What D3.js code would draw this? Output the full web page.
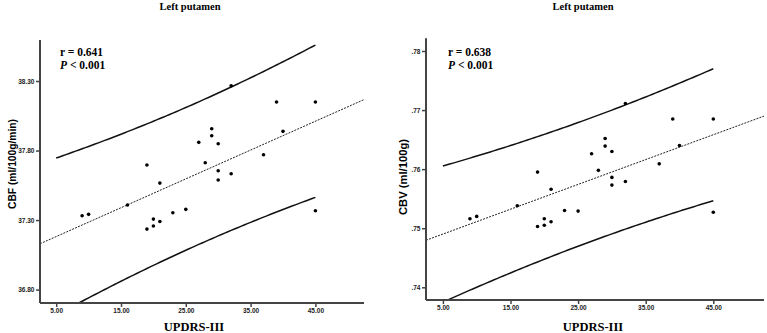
<!DOCTYPE html>
<html>
<head>
<meta charset="utf-8">
<script src="https://cdn.jsdelivr.net/npm/d3@7"></script>
<style>
  body { margin: 0; background: #fff; }
  svg { display: block; }
</style>
</head>
<body>
<svg id="chart" width="767" height="333"></svg>
<script>
// data (same 25 patients in both panels)
var updrs = [32, 39, 45, 29, 29, 40, 27, 30, 37, 19, 28, 30, 32, 30, 21, 16, 9, 10, 19, 20, 20, 21, 23, 25, 45];
var cbf = [38.266, 38.149, 38.149, 37.957, 37.906, 37.938, 37.859, 37.849, 37.770, 37.696, 37.712, 37.655, 37.633,
           37.588, 37.566, 37.408, 37.331, 37.341, 37.235, 37.307, 37.257, 37.290, 37.353, 37.377, 37.367];
var cbv = [0.7711, 0.7685, 0.7685, 0.7652, 0.7639, 0.7640, 0.7626, 0.7630, 0.7609, 0.7595, 0.7598, 0.7586, 0.7579,
           0.7573, 0.7566, 0.7538, 0.7516, 0.7520, 0.7503, 0.7516, 0.7505, 0.7511, 0.7530, 0.7529, 0.7527];

var xTicks = [5, 15, 25, 35, 45];
var cbfTicks = [36.8, 37.3, 37.8, 38.3];
var cbvTicks = [0.74, 0.75, 0.76, 0.77, 0.78];
var titles = ["Left putamen", "Left putamen"];
var yLabels = ["CBF (ml/100g/min)", "CBV (ml/100g)"];
var rValues = ["r = 0.641", "r = 0.638"];
var pText = "< 0.001";
var xLabel = "UPDRS-III";

var t975 = 2.069; // t quantile, df = 23

var svg = d3.select("#chart");

var panels = [
  { y: cbf, ticks: cbfTicks, fmt: d3.format(".2f"), x0: 40, x1: 364, top: 40, bottom: 303,
    yDomain: [36.7035, 38.595], title: titles[0], ylab: yLabels[0], r: rValues[0],
    titleX: 190, xlabX: 194, ylabX: 16, ylabY: 164, ylabW: 90, rX: 60, rY: 56, pY: 68.5 },
  { y: cbv, ticks: cbvTicks, fmt: function(d) { return d3.format(".2f")(d).replace(/^0/, ""); },
    x0: 426, x1: 764, top: 38.3, bottom: 300,
    yDomain: [0.73785, 0.78215], title: titles[1], ylab: yLabels[1], r: rValues[1],
    titleX: 583, xlabX: 593, ylabX: 407, ylabY: 177, ylabW: 76, rX: 448, rY: 55.7, pY: 69.3 }
];

panels.forEach(function(p, i) {
  var x = d3.scaleLinear().domain([2.5, 52.5]).range([p.x0, p.x1]);
  var y = d3.scaleLinear().domain(p.yDomain).range([p.bottom, p.top]);
  var g = svg.append("g");

  // least squares fit + 95% prediction interval
  var n = updrs.length;
  var mx = d3.mean(updrs), my = d3.mean(p.y);
  var sxx = d3.sum(updrs, function(d) { return (d - mx) * (d - mx); });
  var sxy = d3.sum(updrs, function(d, k) { return (d - mx) * (p.y[k] - my); });
  var b = sxy / sxx, a = my - b * mx;
  var sse = d3.sum(updrs, function(d, k) { var e = p.y[k] - (a + b * d); return e * e; });
  var s = Math.sqrt(sse / (n - 2));
  var half = function(v) { return t975 * s * Math.sqrt(1 + 1 / n + (v - mx) * (v - mx) / sxx); };

  g.append("clipPath").attr("id", "clip" + i)
    .append("rect").attr("x", p.x0).attr("y", p.top)
    .attr("width", p.x1 - p.x0).attr("height", p.bottom - p.top);

  var plot = g.append("g").attr("clip-path", "url(#clip" + i + ")");
  var xs = d3.range(5, 45.01, 0.5);

  plot.append("line")
    .attr("x1", x(2.5)).attr("y1", y(a + b * 2.5))
    .attr("x2", x(52.5)).attr("y2", y(a + b * 52.5))
    .attr("stroke", "#222").attr("stroke-width", 1)
    .attr("stroke-dasharray", "2,1.2");

  [1, -1].forEach(function(sign) {
    plot.append("path")
      .datum(xs)
      .attr("d", d3.line()
        .x(function(d) { return x(d); })
        .y(function(d) { return y(a + b * d + sign * half(d)); }))
      .attr("fill", "none").attr("stroke", "#111").attr("stroke-width", 1.5);
  });

  plot.selectAll("circle")
    .data(updrs)
    .enter().append("circle")
      .attr("cx", function(d) { return x(d); })
      .attr("cy", function(d, k) { return y(p.y[k]); })
      .attr("r", 1.8)
      .attr("fill", "#000");

  // axes
  var yAxis = g.append("g").attr("transform", "translate(" + p.x0 + ",0)")
    .call(d3.axisLeft(y).tickValues(p.ticks).tickFormat(p.fmt).tickSize(4).tickPadding(1.5));
  var xAxis = g.append("g").attr("transform", "translate(0," + p.bottom + ")")
    .call(d3.axisBottom(x).tickValues(xTicks).tickFormat(d3.format(".2f")).tickSize(4).tickPadding(1.5));

  [yAxis, xAxis].forEach(function(ax) {
    ax.select(".domain").attr("stroke", "#444").attr("stroke-width", 2);
    ax.selectAll(".tick line").attr("stroke", "#444").attr("stroke-width", 1.5);
    ax.selectAll("text").attr("fill", "#222")
      .style("font-family", "'Liberation Sans Narrow', 'Liberation Sans', Arial, sans-serif")
      .style("font-size", "6.5px").style("font-weight", "bold");
  });
  yAxis.select(".domain").attr("d", "M0," + p.top + "V" + p.bottom);
  xAxis.select(".domain").attr("d", "M" + p.x0 + ",0H" + p.x1);

  // texts
  g.append("text").attr("x", p.titleX).attr("y", 9.5)
    .attr("text-anchor", "middle")
    .style("font-family", "'Liberation Serif', 'Times New Roman', serif")
    .style("font-weight", "bold").style("font-size", "10.5px")
    .text(p.title);

  g.append("text").attr("x", p.xlabX).attr("y", 331)
    .attr("text-anchor", "middle")
    .style("font-family", "'Liberation Serif', 'Times New Roman', serif")
    .style("font-weight", "bold").style("font-size", "12.5px")
    .text(xLabel);

  g.append("text")
    .attr("transform", "translate(" + p.ylabX + "," + p.ylabY + ") rotate(-90)")
    .attr("text-anchor", "middle")
    .attr("textLength", p.ylabW).attr("lengthAdjust", "spacingAndGlyphs")
    .style("font-family", "'Liberation Sans', Arial, sans-serif")
    .style("font-weight", "bold").style("font-size", "10px")
    .text(p.ylab);

  g.append("text").attr("x", p.rX).attr("y", p.rY)
    .style("font-family", "'Liberation Serif', 'Times New Roman', serif")
    .style("font-weight", "bold").style("font-size", "11.5px")
    .text(p.r);

  var pt = g.append("text").attr("x", p.rX).attr("y", p.pY)
    .style("font-family", "'Liberation Serif', 'Times New Roman', serif")
    .style("font-weight", "bold").style("font-size", "11.5px");
  pt.append("tspan").style("font-style", "italic").text("P");
  pt.append("tspan").text(" " + pText);
});
</script>
</body>
</html>
